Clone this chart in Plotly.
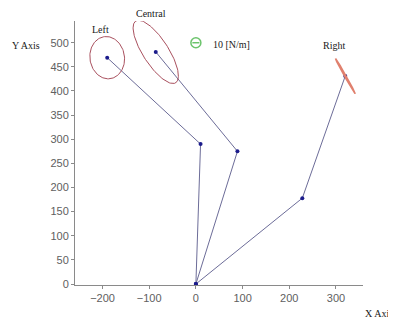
import numpy as np
import plotly.graph_objects as go

# Arm chains: origin -> joint -> end point
chain_names = ["Left", "Central", "Right"]
chain_x = [[0, 10, -190], [0, 89, -86], [0, 228, 320]]
chain_y = [[0, 290, 469], [0, 275, 481], [0, 178, 431]]

# Stiffness ellipses at end points: semi-major, semi-minor, angle (deg)
ell_a = [44, 77, 42]
ell_b = [37, 27, 1.5]
ell_ang = [100, 124, 120]
ell_width = [1, 1, 1.6]
ell_color = ["#a9505e", "#a9505e", "#e0806e"]

# Scale reference
ref_x = [0]
ref_y = [500]
ref_label = "10 [N/m]"

x_ticks = [-200, -100, 0, 100, 200, 300]
y_ticks = [0, 50, 100, 150, 200, 250, 300, 350, 400, 450, 500]

fig = go.Figure()
line_col = "#6c6c98"
for i in range(3):
    fig.add_trace(go.Scatter(x=chain_x[i], y=chain_y[i], mode="lines+markers",
                             line=dict(color=line_col, width=1),
                             marker=dict(color="#1c1c8c", size=4),
                             showlegend=False, hoverinfo="skip", cliponaxis=False))
    t = np.linspace(0, 2 * np.pi, 120)
    th = np.deg2rad(ell_ang[i])
    cx, cy = chain_x[i][-1], chain_y[i][-1]
    ex = cx + ell_a[i] * np.cos(t) * np.cos(th) - ell_b[i] * np.sin(t) * np.sin(th)
    ey = cy + ell_a[i] * np.cos(t) * np.sin(th) + ell_b[i] * np.sin(t) * np.cos(th)
    fig.add_trace(go.Scatter(x=ex, y=ey, mode="lines",
                             line=dict(color=ell_color[i], width=ell_width[i]),
                             showlegend=False, hoverinfo="skip", cliponaxis=False))

fig.add_trace(go.Scatter(x=ref_x, y=ref_y, mode="markers",
                         marker=dict(symbol="circle-open", size=10, color="#6cc46c", line=dict(width=1.5)),
                         showlegend=False, hoverinfo="skip"))
fig.add_trace(go.Scatter(x=ref_x, y=ref_y, mode="markers",
                         marker=dict(symbol="line-ew", size=5, color="#6cc46c", line=dict(width=1.5, color="#6cc46c")),
                         showlegend=False, hoverinfo="skip"))

# page offset (browser body margin)
OFF = 8
W, H = 396 - OFF, 322 - OFF
ml, mr, mt, mb = 75 - OFF, 33, 21 - OFF, 37
pw, ph = W - ml - mr, H - mt - mb


def px(x, y):
    return (x - OFF - ml) / pw, 1 - (y - OFF - mt) / ph


serif = dict(family="Liberation Serif", size=10, color="#202020")
# text labels: (screen px x, screen px y, text, anchor)
labels = [
    (100, 30, "Left", "center"),
    (151, 14, "Central", "center"),
    (334, 45, "Right", "center"),
    (211, 44, ref_label, "left"),
    (10, 45, "Y Axis", "left"),
    (395, 313, "X Axis", "right"),
]
annotations = []
for lx, ly, txt, anc in labels:
    x, y = px(lx, ly)
    annotations.append(dict(x=x, y=y, xref="paper", yref="paper", text=txt, showarrow=False,
                            font=serif, xanchor=anc, yanchor="middle"))

axis_common = dict(showgrid=False, zeroline=False, showline=True, linecolor="#8a8a8a", linewidth=1,
                   ticks="outside", ticklen=3, tickcolor="#8a8a8a",
                   tickfont=dict(family="Liberation Sans", size=11, color="#606060"))
fig.update_layout(
    width=W, height=H, margin=dict(l=ml, r=mr, t=mt, b=mb),
    paper_bgcolor="white", plot_bgcolor="white",
    xaxis=dict(range=[-259, 358], tickvals=x_ticks, **axis_common),
    yaxis=dict(range=[-2, 545], tickvals=y_ticks, **axis_common),
    annotations=annotations,
)
fig.write_html("out.html")
